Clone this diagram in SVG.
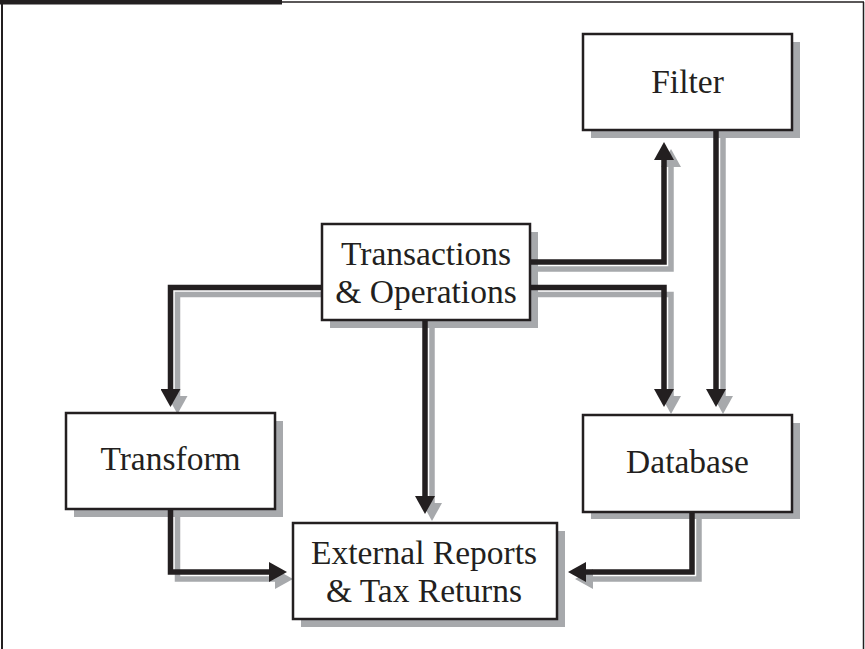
<svg xmlns="http://www.w3.org/2000/svg" width="865" height="649" viewBox="0 0 865 649">
<style>
.shadow{fill:#a7a9ac;stroke:none}
.box{fill:#ffffff;stroke:#231f20;stroke-width:2.5}
.lbl{font-family:"Liberation Serif","Times New Roman",serif;font-size:33.5px;fill:#231f20;text-anchor:middle}
.cb{fill:none;stroke:#231f20;stroke-width:5.5;stroke-linejoin:miter}
.cg{fill:none;stroke:#a7a9ac;stroke-width:5.5;stroke-linejoin:miter}
.frame{fill:none;stroke:#231f20}
</style>
<defs>
<marker id="ab" viewBox="0 0 18 20" refX="1" refY="10" markerWidth="18" markerHeight="20" markerUnits="userSpaceOnUse" orient="auto">
<path d="M0,0 L18,10 L0,20 z" fill="#231f20"/>
</marker>
<marker id="ag" viewBox="0 0 18 20" refX="1" refY="10" markerWidth="18" markerHeight="20" markerUnits="userSpaceOnUse" orient="auto">
<path d="M0,0 L18,10 L0,20 z" fill="#a7a9ac"/>
</marker>
</defs>
<rect width="865" height="649" fill="#ffffff"/>
<g id="frame">
<rect x="0" y="0" width="282" height="4.5" fill="#231f20"/>
<line class="frame" x1="282" y1="2" x2="864" y2="2" stroke-width="1.5"/>
<line class="frame" x1="2" y1="0" x2="2" y2="649" stroke-width="2"/>
<line class="frame" x1="863.5" y1="2" x2="863.5" y2="649" stroke-width="1.5"/>
</g>
<g id="box-shadows">
<rect class="shadow" x="591" y="42" width="209" height="96"/>
<rect class="shadow" x="330" y="232" width="208" height="96"/>
<rect class="shadow" x="74" y="421" width="209" height="96"/>
<rect class="shadow" x="591" y="423" width="209" height="96"/>
<rect class="shadow" x="301" y="531" width="264" height="96"/>
</g>
<g id="connectors">
<path class="cg" d="M329,294.5 H177.5 V397" marker-end="url(#ag)"/>
<path class="cg" d="M432,327 V504" marker-end="url(#ag)"/>
<path class="cg" d="M537,269 H671 V166" marker-end="url(#ag)"/>
<path class="cg" d="M537,294.5 H671 V397" marker-end="url(#ag)"/>
<path class="cg" d="M723,137 V397" marker-end="url(#ag)"/>
<path class="cg" d="M177.5,516 V579 H276" marker-end="url(#ag)"/>
<path class="cg" d="M699,519 V579 H592" marker-end="url(#ag)"/>
<path class="cb" d="M322,287.5 H170.5 V390" marker-end="url(#ab)"/>
<path class="cb" d="M425,320 V497" marker-end="url(#ab)"/>
<path class="cb" d="M530,262 H664 V159" marker-end="url(#ab)"/>
<path class="cb" d="M530,287.5 H664 V390" marker-end="url(#ab)"/>
<path class="cb" d="M716,130 V390" marker-end="url(#ab)"/>
<path class="cb" d="M170.5,509 V572 H270" marker-end="url(#ab)"/>
<path class="cb" d="M692,512 V572 H585" marker-end="url(#ab)"/>
</g>
<g id="filter">
<rect class="box" x="583" y="34" width="209" height="96"/>
<text class="lbl" x="687.5" y="93">Filter</text>
</g>
<g id="transactions">
<rect class="box" x="322" y="224" width="208" height="96"/>
<text class="lbl" x="426" y="265">Transactions</text>
<text class="lbl" x="426" y="303">&amp; Operations</text>
</g>
<g id="transform">
<rect class="box" x="66" y="413" width="209" height="96"/>
<text class="lbl" x="170.5" y="470">Transform</text>
</g>
<g id="database">
<rect class="box" x="583" y="415" width="209" height="97"/>
<text class="lbl" x="687.5" y="473">Database</text>
</g>
<g id="external">
<rect class="box" x="293" y="523" width="264" height="96"/>
<text class="lbl" x="424" y="564">External Reports</text>
<text class="lbl" x="424" y="602">&amp; Tax Returns</text>
</g>
</svg>
